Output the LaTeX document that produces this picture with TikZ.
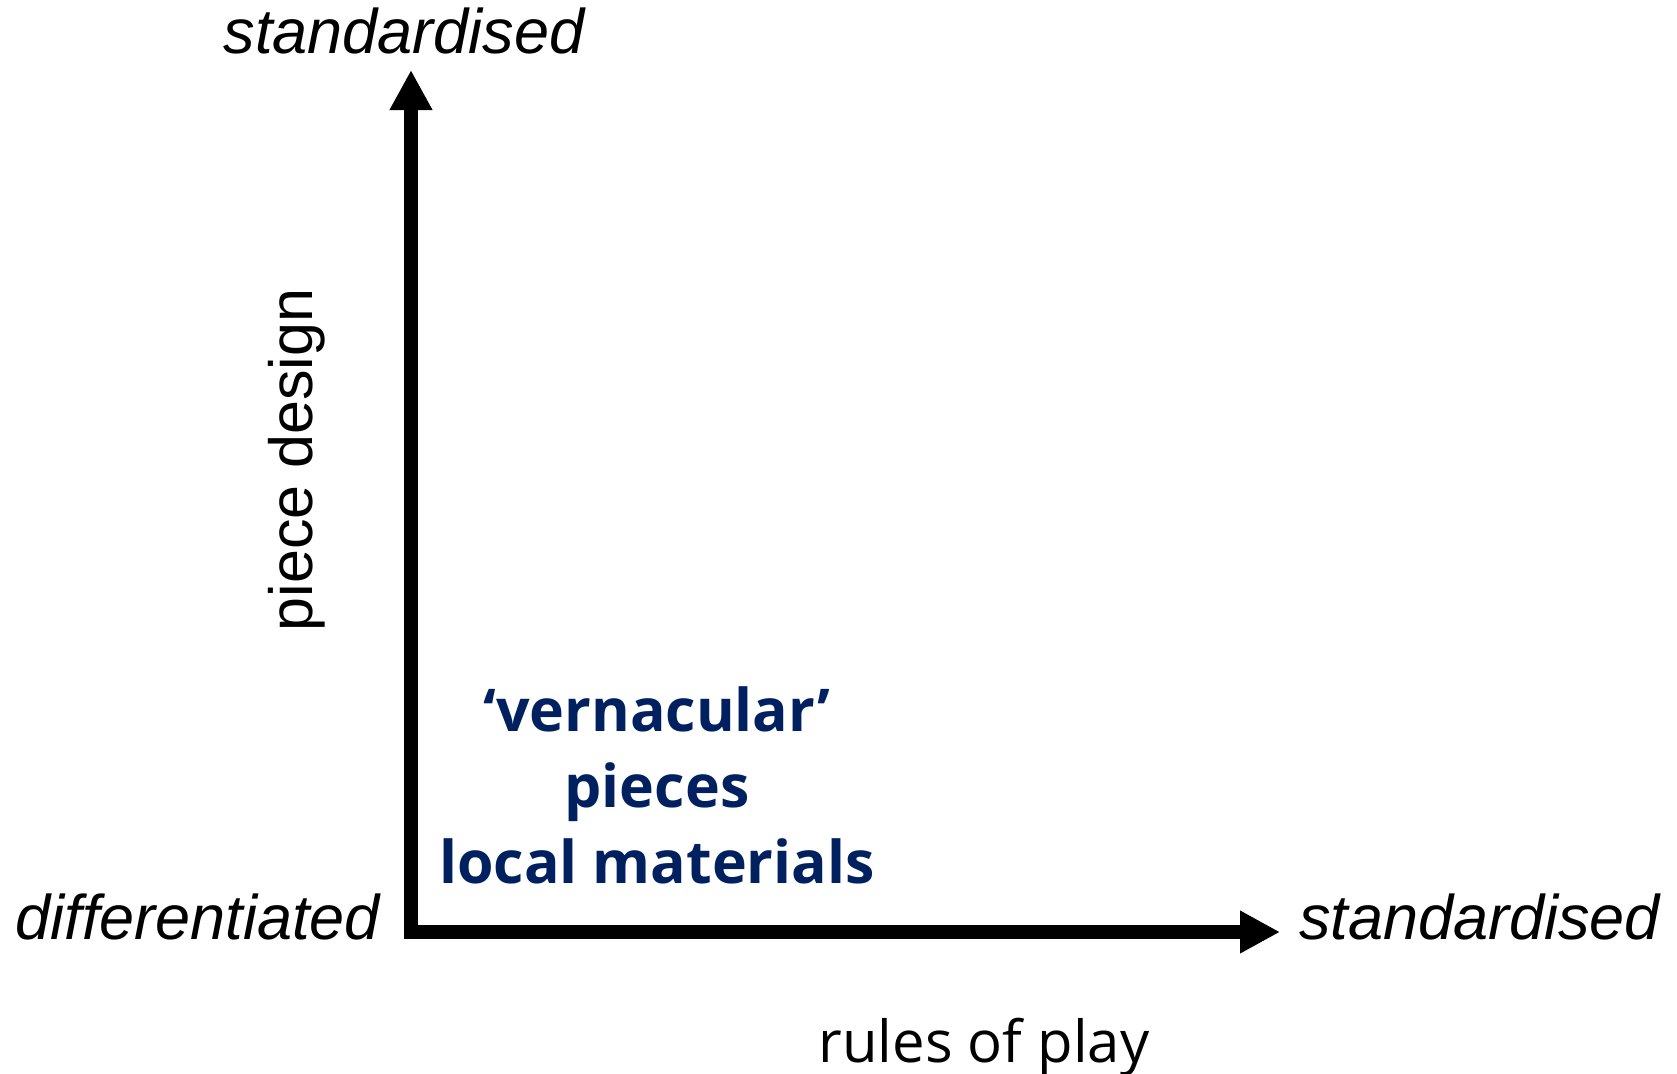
\documentclass[tikz,border=0pt]{standalone}
\usepackage{fontspec}
\setmainfont{Liberation Sans}
\newfontfamily\labelfont{Open Sans}
\usepackage{tikz}
\usetikzlibrary{arrows.meta}
\definecolor{navy}{RGB}{0,32,96}

\tikzset{
  axis/.style={line width=14pt,-{Triangle[length=40pt,width=40pt]}},
  endlabel/.style={inner sep=0pt,font=\fontsize{63}{66}\selectfont\itshape},
  axislabel/.style={inner sep=0pt,font=\fontsize{61}{64}\selectfont},
}

\begin{document}
\begin{tikzpicture}[x=1pt,y=-1pt]
\useasboundingbox (0,0) rectangle (1677,1073);

\coordinate (corner) at (411,939);
\coordinate (ytip) at (411,70);
\coordinate (xstart) at (404,932);
\coordinate (xtip) at (1280,932);

\draw[axis] (corner) -- (ytip);
\draw[axis] (xstart) -- (xtip);

\node[endlabel,anchor=base] (ytop) at (404,54) {standardised};
\node[endlabel,anchor=base east] (xleft) at (380,939) {differentiated};
\node[endlabel,anchor=base west] (xright) at (1299,939) {standardised};

\node[axislabel,anchor=base,rotate=90] (ylab) at (312,460) {piece design};
\node[axislabel,anchor=base,font=\fontsize{58}{62}\selectfont\labelfont] (xlab) at (984,1062) {rules of play};

% corner region
\node[inner sep=0pt,align=center,text=navy,font=\fontsize{59}{76}\selectfont\labelfont\bfseries,anchor=base] (vern) at (657,883)
  {‘vernacular’\\pieces\\local materials};

\end{tikzpicture}
\end{document}
